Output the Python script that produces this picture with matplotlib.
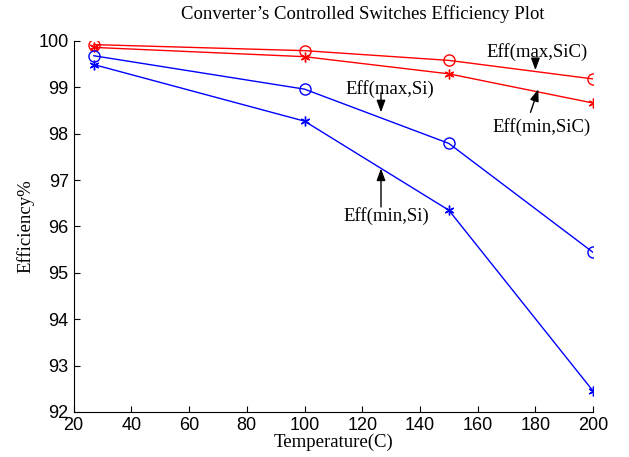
import numpy as np
import matplotlib.pyplot as plt

# Data
temp = [27, 100, 150, 200]
eff_max_sic = [99.92, 99.79, 99.58, 99.18]
eff_min_sic = [99.86, 99.66, 99.29, 98.66]
eff_max_si = [99.68, 98.96, 97.79, 95.44]
eff_min_si = [99.49, 98.27, 96.35, 92.45]

serif = 'Liberation Serif'
sans = 'Liberation Sans'

fig = plt.figure(figsize=(6.29, 4.57), dpi=100)
ax = fig.add_axes([0.117, 0.0985, 0.826, 0.812])

asterisk = (6, 2, 0)
ax.plot(temp, eff_max_sic, color='r', lw=1, marker='o', mfc='none', ms=8)
ax.plot(temp, eff_min_sic, color='r', lw=1, marker=asterisk, ms=7)
ax.plot(temp, eff_max_si, color='b', lw=1, marker='o', mfc='none', ms=8)
ax.plot(temp, eff_min_si, color='b', lw=1, marker=asterisk, ms=7)

ax.set_xlim(20, 200)
ax.set_ylim(92, 100)
ax.set_xticks(np.arange(20, 201, 20))
ax.set_yticks(np.arange(92, 101, 1))
ax.tick_params(direction='in', length=4, labelsize=13)
for lab in ax.get_xticklabels() + ax.get_yticklabels():
    lab.set_family(sans)
ax.spines['top'].set_visible(False)
ax.spines['right'].set_visible(False)

fig.text(0.576, 0.969, "Converter\u2019s Controlled Switches Efficiency Plot",
         family=serif, fontsize=13.5, ha='center', va='center')
ax.set_xlabel('Temperature(C)', family=serif, fontsize=13.5, labelpad=0)
ax.set_ylabel('Efficiency%', family=serif, fontsize=13.5)
ax.yaxis.set_label_coords(-0.076, 0.5)

arrow = dict(arrowstyle='-|>,head_length=0.6,head_width=0.22', color='k', lw=1,
             mutation_scale=12, shrinkA=0, shrinkB=0)
fs = 13.5
# Eff(max,SiC)
ax.annotate('', xy=(180, 99.37), xytext=(180, 99.62), arrowprops=arrow)
ax.text(180.5, 99.77, 'Eff(max,SiC)', family=serif, fontsize=fs, ha='center', va='center')
# Eff(min,SiC)
ax.annotate('', xy=(181, 98.96), xytext=(178.3, 98.46), arrowprops=arrow)
ax.text(182, 98.14, 'Eff(min,SiC)', family=serif, fontsize=fs, ha='center', va='center')
# Eff(max,Si)
ax.annotate('', xy=(126.5, 98.46), xytext=(126.5, 98.88), arrowprops=arrow)
ax.text(129.7, 98.96, 'Eff(max,Si)', family=serif, fontsize=fs, ha='center', va='center')
# Eff(min,Si)
ax.annotate('', xy=(126.5, 97.25), xytext=(126.5, 96.42), arrowprops=arrow)
ax.text(128.3, 96.23, 'Eff(min,Si)', family=serif, fontsize=fs, ha='center', va='center')

fig.savefig('out.png', dpi=100)
